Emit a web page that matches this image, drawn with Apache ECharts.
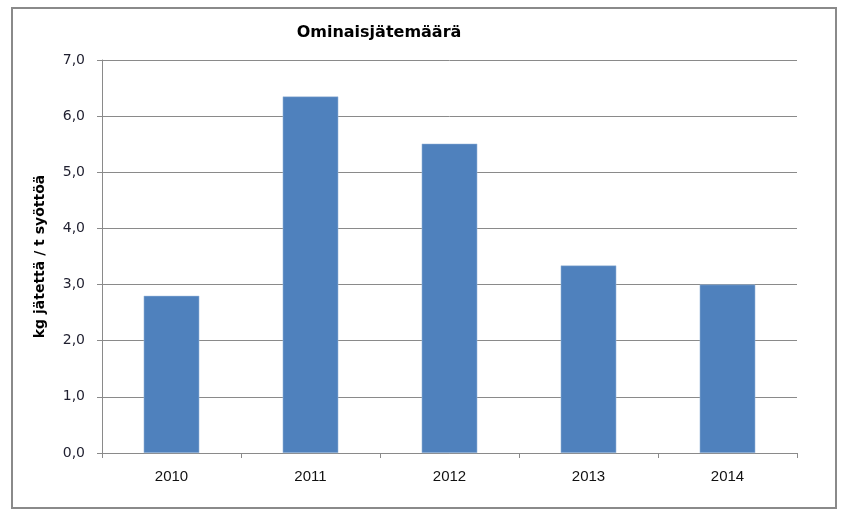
<!DOCTYPE html>
<html>
<head>
<meta charset="utf-8">
<script src="https://cdn.jsdelivr.net/npm/echarts@6/dist/echarts.min.js"></script>
<style>
html,body{margin:0;padding:0;background:#fff;}
#chart{width:842px;height:517px;}
</style>
</head>
<body>
<div id="chart"></div>
<script>
// vuodet ja arvot luettu kuvasta
var years=["2010","2011","2012","2013","2014"];
var values=[2.80,6.35,5.51,3.34,3.00];
var yMin=0,yMax=7,yStep=1;

var oChart=echarts.init(document.getElementById("chart"));
var option={
    animation:false,
    backgroundColor:"#fff",
    title:{
        text:"Ominaisjätemäärä",
        left:374,
        top:20,
        textAlign:"center",
        textStyle:{
            fontFamily:"DejaVu Sans",
            fontSize:16,
            fontWeight:"bold",
            color:"#000"
        }
    },
    graphic:[{
        type:"rect",
        shape:{x:12,y:8,width:824,height:500},
        style:{fill:"none",stroke:"#8a8a8a",lineWidth:2},
        silent:true
    }],
    grid:{
        left:102,
        right:45,
        top:60,
        bottom:64
    },
    xAxis:{
        type:"category",
        data:years,
        axisLine:{
            lineStyle:{color:"#8a8a8a",width:1}
        },
        axisTick:{
            show:true,
            length:5,
            lineStyle:{color:"#8a8a8a"}
        },
        axisLabel:{
            margin:16,
            fontFamily:"Liberation Sans",
            fontSize:15,
            color:"#111"
        },
        splitLine:{show:false}
    },
    yAxis:{
        type:"value",
        min:yMin,
        max:yMax,
        interval:yStep,
        name:"kg jätettä / t syöttöä",
        nameLocation:"middle",
        nameGap:55,
        nameRotate:90,
        nameTextStyle:{
            fontFamily:"DejaVu Sans",
            fontSize:14,
            fontWeight:"bold",
            color:"#000"
        },
        axisLine:{
            show:true,
            lineStyle:{color:"#8a8a8a",width:1}
        },
        axisTick:{
            show:true,
            length:5,
            lineStyle:{color:"#8a8a8a"}
        },
        axisLabel:{
            margin:17,
            fontFamily:"DejaVu Sans",
            fontSize:14,
            color:"#1f1f2f",
            formatter:function(v){
                return v.toFixed(1).replace(".",",");
            }
        },
        splitLine:{
            show:true,
            lineStyle:{color:"#8a8a8a",width:1}
        }
    },
    series:[{
        type:"bar",
        data:values,
        barWidth:"40%",
        itemStyle:{
            color:"#4f81bd",
            borderColor:"#a7c0de",
            borderWidth:0.5
        }
    }]
};
oChart.setOption(option);
</script>
</body>
</html>
